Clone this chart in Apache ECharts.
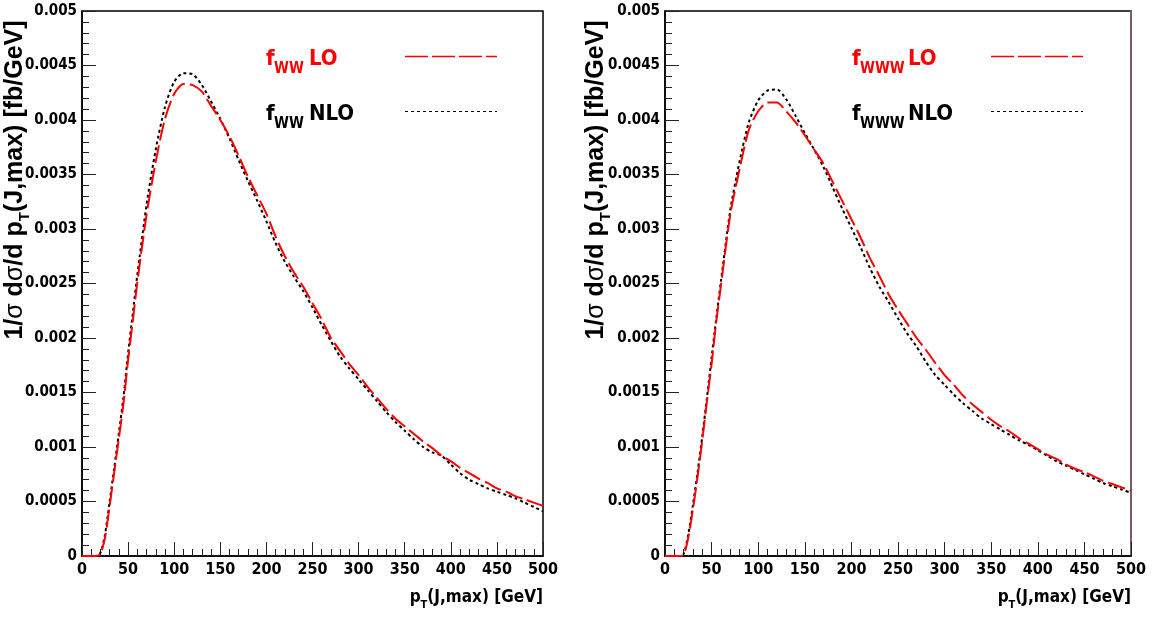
<!DOCTYPE html>
<html>
<head>
<meta charset="utf-8">
<script src="https://cdn.jsdelivr.net/npm/echarts@6/dist/echarts.min.js"></script>
<style>html,body{margin:0;padding:0;background:#fff;}#c{width:1159px;height:619px;}</style>
</head>
<body>
<div id="c"></div>
<script>
// ---- data (pT in GeV, normalized distribution in 1/fb/GeV) ----
const ptBins = [0,10,15,20,25,30,35,40,45,50,55,60,
  70,80,90,100,110,120,130,140,150,160,
  170,180,190,200,210,220,230,240,250,260,
  270,280,290,300,310,320,330,340,350,360,
  370,380,390,400,410,420,430,440,450,460,
  470,480,490,500];
const xTicks = [0,50,100,150,200,250,300,350,400,450,500];
const yTicks = [0,0.0005,0.001,0.0015,0.002,0.0025,0.003,0.0035,0.004,0.0045,0.005];

const wwLO = [0,0,0,0.00002,0.00017,0.00046,0.00077,0.00108,0.00140,0.00180,0.00215,0.00251,
  0.00313,0.00362,0.00401,0.00424,0.00433,0.00432,0.00426,0.00413,0.00400,0.00385,
  0.00367,0.00348,0.00331,0.00314,0.00293,0.00275,0.00260,0.00247,0.00232,0.00217,
  0.00200,0.00188,0.00176,0.00166,0.00155,0.00145,0.00135,0.00126,0.00119,0.00112,
  0.00105,0.00099,0.00092,0.00087,0.00081,0.00076,0.00071,0.00067,0.00062,0.00059,
  0.00055,0.00052,0.00049,0.00046];
const wwNLO = [0,0,0,0.00003,0.00020,0.00050,0.00081,0.00113,0.00146,0.00186,0.00222,0.00258,
  0.00322,0.00373,0.00412,0.00435,0.00443,0.00442,0.00432,0.00417,0.00401,0.00383,
  0.00363,0.00344,0.00326,0.00307,0.00287,0.00270,0.00256,0.00243,0.00228,0.00212,
  0.00197,0.00183,0.00172,0.00162,0.00152,0.00142,0.00132,0.00123,0.00115,0.00107,
  0.00100,0.00095,0.00092,0.00084,0.00076,0.00070,0.00066,0.00062,0.00059,0.00056,
  0.00053,0.00049,0.00045,0.00041];
const wwwLO = [0,0,0,0.00001,0.00017,0.00043,0.00073,0.00106,0.00142,0.00176,0.00215,0.00248,
  0.00313,0.00355,0.00391,0.00408,0.00416,0.00416,0.00408,0.00398,0.00386,0.00373,
  0.00360,0.00343,0.00326,0.00309,0.00292,0.00273,0.00257,0.00240,0.00226,0.00213,
  0.00200,0.00189,0.00177,0.00166,0.00157,0.00147,0.00139,0.00132,0.00125,0.00119,
  0.00114,0.00108,0.00103,0.00098,0.00093,0.00089,0.00084,0.00080,0.00077,0.00073,
  0.00069,0.00066,0.00063,0.00060];
const wwwNLO = [0,0,0,0.00002,0.00020,0.00047,0.00077,0.00110,0.00145,0.00182,0.00218,0.00252,
  0.00317,0.00362,0.00398,0.00418,0.00427,0.00428,0.00419,0.00404,0.00388,0.00373,
  0.00357,0.00338,0.00319,0.00301,0.00283,0.00264,0.00247,0.00233,0.00218,0.00204,
  0.00192,0.00178,0.00166,0.00157,0.00148,0.00140,0.00133,0.00126,0.00121,0.00116,
  0.00111,0.00106,0.00102,0.00097,0.00092,0.00087,0.00083,0.00079,0.00075,0.00071,
  0.00067,0.00064,0.00061,0.00058];

const seriesNames = ['fWW LO','fWW NLO','fWWW LO','fWWW NLO'];
const legendLabels = {
  'fWW LO':  ['f','WW',' LO'],
  'fWW NLO': ['f','WW',' NLO'],
  'fWWW LO': ['f','WWW',' LO'],
  'fWWW NLO':['f','WWW',' NLO']
};
const xTitle = ['p','T','(J,max) [GeV]'];
const yTitle = ['1/','\u03c3',' d','\u03c3','/d p','T','(J,max) [fb/GeV]'];

// ---- styling ----
const NARROW = "'DejaVu Sans Condensed','Liberation Sans Narrow','Liberation Sans',Arial,sans-serif";
const SANS = "'Liberation Sans',Arial,sans-serif";
const pairs = ys => ptBins.map((x,i)=>[x, ys[i]]);

function xAxisCfg(gi){
  return {
    type:'value', gridIndex:gi, min:xTicks[0], max:xTicks[xTicks.length-1], interval:xTicks[1]-xTicks[0],
    axisLine:{show:true,onZero:false,lineStyle:{color:'#000',width:1.5}},
    axisTick:{show:true,inside:true,length:14,lineStyle:{color:'#222',width:1}},
    minorTick:{show:true,splitNumber:5,length:7,lineStyle:{color:'#222',width:1}},
    splitLine:{show:false},
    axisLabel:{fontFamily:NARROW,fontWeight:'bold',fontSize:16,color:'#000',margin:6,hideOverlap:false},
    name:'{p|'+xTitle[0]+'}{s|'+xTitle[1]+'}{t|'+xTitle[2]+'}',
    nameLocation:'end', nameGap:0,
    nameTextStyle:{align:'right',verticalAlign:'top',padding:[33,0,0,0],
      rich:{
        p:{fontFamily:NARROW,fontWeight:'bold',fontSize:17,color:'#000',verticalAlign:'bottom',padding:[0,0,5,0]},
        t:{fontFamily:NARROW,fontWeight:'bold',fontSize:17,color:'#000',verticalAlign:'bottom',padding:[0,0,5,0]},
        s:{fontFamily:NARROW,fontWeight:'bold',fontSize:11,color:'#000',verticalAlign:'bottom'}
      }}
  };
}
function yAxisCfg(gi, gap){
  const t = yTitle;
  return {
    type:'value', gridIndex:gi, min:yTicks[0], max:yTicks[yTicks.length-1], interval:yTicks[1]-yTicks[0],
    axisLine:{show:true,onZero:false,lineStyle:{color:'#000',width:1.5}},
    axisTick:{show:true,inside:true,length:14,lineStyle:{color:'#222',width:1}},
    minorTick:{show:true,splitNumber:5,length:7,lineStyle:{color:'#222',width:1}},
    splitLine:{show:false},
    axisLabel:{fontFamily:NARROW,fontWeight:'bold',fontSize:15,color:'#000',margin:5,
      formatter:v=>String(+v.toFixed(4))},
    name:'{t|'+t[0]+'}{g|'+t[1]+'}{t|'+t[2]+'}{g|'+t[3]+'}{t|'+t[4]+'}{s|'+t[5]+'}{t|'+t[6]+'}',
    nameLocation:'middle', nameGap:gap, nameMoveOverlap:false,
    nameTextStyle:{padding:[0,0,0,207],
      rich:{
        t:{fontFamily:SANS,fontWeight:'bold',fontSize:25,color:'#000',verticalAlign:'bottom',padding:[0,0,4,0]},
        g:{fontFamily:SANS,fontWeight:'normal',fontSize:25,color:'#000',verticalAlign:'bottom',padding:[0,0,4,0]},
        s:{fontFamily:SANS,fontWeight:'bold',fontSize:15,color:'#000',verticalAlign:'bottom'}
      }}
  };
}
function legendCfg(name, left, top, color, dash, w, subW){
  const l = legendLabels[name];
  const fW = 8, restW = 134 - fW - subW;
  return {
    data:[name], left:left, top:top, padding:0, align:'right', orient:'vertical',
    itemWidth:92, itemHeight:12, selectedMode:false,
    itemStyle:{opacity:0},
    lineStyle:{width:w,type:dash},
    formatter:()=>'{f|'+l[0]+'}{s|'+l[1]+'}{m|'+l[2]+'}',
    textStyle:{color:color,
      rich:{
        f:{fontFamily:NARROW,fontWeight:'bold',fontSize:22,color:color,align:'left',verticalAlign:'bottom',padding:[0,0,7,0],width:fW},
        m:{fontFamily:NARROW,fontWeight:'bold',fontSize:22,color:color,align:'left',verticalAlign:'bottom',padding:[0,0,7,0],width:restW},
        s:{fontFamily:NARROW,fontWeight:'bold',fontSize:15,color:color,align:'left',verticalAlign:'bottom',padding:[26,0,0,0],width:subW}
      }}
  };
}
function lineSeries(name, xi, ys, color, dash){
  return {name:name,type:'line',xAxisIndex:xi,yAxisIndex:xi,data:pairs(ys),
    symbol:'none',showSymbol:false,smooth:0.25,animation:false,
    lineStyle:{color:color,width:2,type:dash},itemStyle:{color:color},z:color==='#ff0000'?3:2};
}

const frameRight = {
  type:'value', gridIndex:1, position:'right', min:yTicks[0], max:yTicks[yTicks.length-1],
  axisLine:{show:true,onZero:false,lineStyle:{color:'#7a5c5c',width:2}},
  axisTick:{show:false}, axisLabel:{show:false}, splitLine:{show:false}
};

const chart = echarts.init(document.getElementById('c'),null,{renderer:'canvas'});
chart.setOption({
  backgroundColor:'#fff',
  animation:false,
  grid:[
    {left:82,top:11,width:461,height:545,show:true,borderColor:'#000',borderWidth:1.5,containLabel:false,outerBoundsMode:'none'},
    {left:665,top:11,width:466,height:545,show:true,borderColor:'#000',borderWidth:1.5,containLabel:false,outerBoundsMode:'none'}
  ],
  xAxis:[xAxisCfg(0),xAxisCfg(1)],
  yAxis:[yAxisCfg(0,50),yAxisCfg(1,52),frameRight],
  legend:[
    legendCfg(seriesNames[0],266,48,'#ff0000',[23,4],1.3,28),
    legendCfg(seriesNames[1],266,103,'#000000',[3,3],1.2,28),
    legendCfg(seriesNames[2],852,48,'#ff0000',[23,4],1.3,41),
    legendCfg(seriesNames[3],852,103,'#000000',[3,3],1.2,41)
  ],
  series:[
    lineSeries(seriesNames[1],0,wwNLO,'#000000',[3,3]),
    lineSeries(seriesNames[0],0,wwLO,'#ff0000',[18,5]),
    lineSeries(seriesNames[3],1,wwwNLO,'#000000',[3,3]),
    lineSeries(seriesNames[2],1,wwwLO,'#ff0000',[18,5])
  ]
});
</script>
</body>
</html>
